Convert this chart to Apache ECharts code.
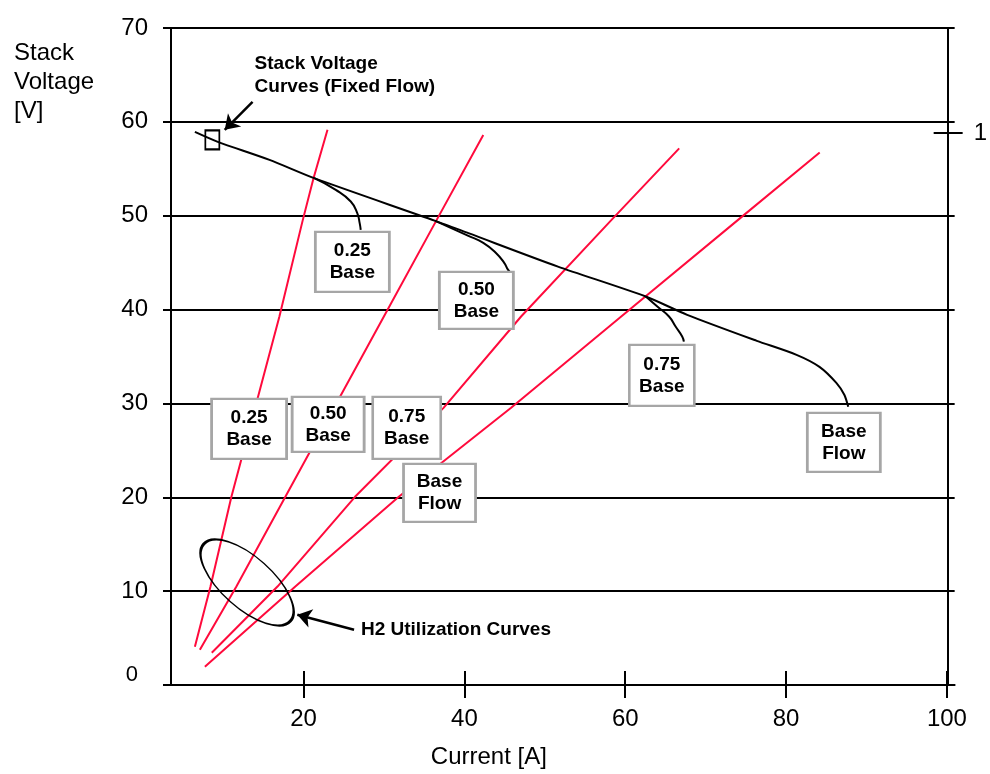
<!DOCTYPE html>
<html>
<head>
<meta charset="utf-8">
<script src="https://cdn.jsdelivr.net/npm/echarts@6/dist/echarts.min.js"></script>
<style>
  html, body { margin: 0; padding: 0; background: #fff; overflow: hidden; }
  #chart { width: 990px; height: 774px; }
</style>
</head>
<body>
<div id="chart"></div>
<script>
// ---------------- data ----------------
const currentTicks = [20, 40, 60, 80, 100];
const rightTicks = [1];

// H2 utilization curves: [current A, stack voltage V]
const util025 = [[6.49, 4.07], [8.43, 10.49], [11.03, 20.05], [17.00, 39.26], [19.88, 49.45], [21.24, 54.0], [22.98, 59.15]];
const util050 = [[7.11, 3.75], [11.65, 10.49], [17.74, 20.05], [29.99, 39.26], [36.49, 49.45], [42.35, 58.61]];
const util075 = [[8.59, 3.43], [16.76, 10.49], [26.40, 20.05], [37.41, 29.53], [47.05, 39.26], [58.18, 49.45], [66.71, 57.17]];
const utilBase = [[7.73, 1.94], [18.98, 10.49], [31.84, 20.05], [45.81, 29.53], [59.54, 39.28], [73.88, 49.45], [84.18, 56.73]];

// Stack voltage curves (fixed flow)
const stackBase = [[6.49, 58.93], [9.34, 57.87], [15.77, 55.95], [21.33, 54.0], [36.38, 49.45], [40.50, 48.14], [51.63, 44.58], [62.55, 41.39], [67.70, 39.44], [76.36, 36.67], [81.30, 35.18], [84.15, 33.90], [86.25, 32.19], [87.24, 30.92], [87.73, 29.64]];
const stack025 = [[21.33, 54.0], [24.01, 52.75], [25.87, 51.51], [26.68, 50.27], [26.98, 49.21], [27.11, 48.49]];
const stack050 = [[36.38, 49.45], [40.50, 47.85], [42.35, 47.11], [43.96, 46.01], [44.95, 44.98], [45.44, 44.23], [45.85, 43.88]];
const stack075 = [[62.55, 41.39], [63.99, 40.32], [65.44, 39.26], [66.26, 38.19], [67.08, 37.13], [67.29, 36.59]];

const boxLabels = ['0.25\nBase', '0.50\nBase', '0.75\nBase', 'Base\nFlow'];

// ---------------- chart ----------------
const FONT = '"Liberation Sans", Arial, sans-serif';
const RED = '#ff0a3c';
const chart = echarts.init(document.getElementById('chart'), null, { renderer: 'canvas' });

function redLine(name, data) {
  return { name, type: 'line', data, symbol: 'none', silent: true,
    lineStyle: { color: RED, width: 2 }, z: 2 };
}
function blackLine(name, data, smooth) {
  return { name, type: 'line', data, symbol: 'none', silent: true, smooth: smooth || false,
    lineStyle: { color: '#000', width: 2 }, z: 3 };
}
function box(label, coord, size) {
  return { coord, symbol: 'rect', symbolSize: size,
    itemStyle: { color: '#fff', borderColor: '#a6a6a6', borderWidth: 2.5 },
    label: { show: true, position: 'inside', formatter: label, color: '#000', fontSize: 19,
      fontWeight: 'bold', lineHeight: 22, fontFamily: FONT, textBorderWidth: 0 } };
}
function note(text, coord) {
  return { coord, symbol: 'circle', symbolSize: 0,
    itemStyle: { color: 'rgba(0,0,0,0)' },
    label: { show: true, position: 'right', distance: 0, formatter: text, color: '#000',
      fontSize: 19, fontWeight: 'bold', lineHeight: 23, fontFamily: FONT, align: 'left' } };
}

const mainSeries = blackLine('Stack Voltage (Base Flow)', stackBase, 0.25);
mainSeries.markPoint = {
  silent: true, animation: false, z: 10,
  data: [
    box(boxLabels[0], [26.07, 45.08], [74, 60]),
    box(boxLabels[1], [41.49, 40.98], [74, 57]),
    box(boxLabels[2], [64.55, 32.99], [65, 61]),
    box(boxLabels[3], [87.18, 25.86], [73, 59]),
    box(boxLabels[0], [13.23, 27.29], [75, 60]),
    box(boxLabels[1], [23.06, 27.77], [72, 55]),
    box(boxLabels[2], [32.83, 27.40], [68, 62]),
    box(boxLabels[3], [36.91, 20.47], [72, 58]),
    note('Stack Voltage\nCurves (Fixed Flow)', [13.91, 64.97]),
    note('H2 Utilization Curves', [27.14, 5.88]),
    { coord: [12.98, 10.92], symbol: 'circle', symbolSize: [116, 51], symbolRotate: -41.7,
      itemStyle: { color: 'rgba(0,0,0,0)', borderColor: '#000', borderWidth: 2 }, label: { show: false } },
    { coord: [8.66, 58.08], symbol: 'rect', symbolSize: [14, 19],
      itemStyle: { color: 'rgba(0,0,0,0)', borderColor: '#000', borderWidth: 2 }, label: { show: false } }
  ]
};
mainSeries.markLine = {
  silent: true, animation: false, symbol: ['none', 'arrow'], symbolSize: 14,
  lineStyle: { color: '#000', width: 2.5, type: 'solid' },
  label: { show: false },
  data: [
    [{ coord: [13.66, 62.13] }, { coord: [10.20, 59.15] }],
    [{ coord: [26.28, 5.88] }, { coord: [19.23, 7.48] }]
  ]
};

const axisFont = { fontSize: 24, color: '#000', fontFamily: FONT };
const blackAxisLine = { show: true, lineStyle: { color: '#000', width: 2 } };
const X_MIN = 3.52, X_MAX = 100.96, R_MAX = 1.19;

const option = {
  animation: false,
  backgroundColor: '#fff',
  textStyle: { fontFamily: FONT },
  title: [{
    text: 'Stack\nVoltage\n[V]', left: 14, top: 39, padding: 0,
    textStyle: { fontSize: 24, fontWeight: 'normal', color: '#000', lineHeight: 29, fontFamily: FONT }
  }],
  grid: { left: 171, right: 31, top: 28, bottom: 89, containLabel: false },
  xAxis: [{
    type: 'value', min: X_MIN, max: X_MAX, position: 'bottom',
    axisLine: blackAxisLine,
    axisTick: { show: true, customValues: currentTicks, length: 13, lineStyle: { color: '#000', width: 2 } },
    axisLabel: Object.assign({ customValues: currentTicks, margin: 22 }, axisFont),
    splitLine: { show: false },
    name: 'Current [A]', nameLocation: 'middle', nameGap: 60,
    nameTextStyle: Object.assign({ padding: [0, 148, 0, 0] }, axisFont)
  }, {
    type: 'value', min: X_MIN, max: X_MAX, position: 'bottom',
    axisLine: { show: false },
    axisTick: { show: true, inside: true, customValues: currentTicks, length: 14, lineStyle: { color: '#000', width: 2 } },
    axisLabel: { show: false }, splitLine: { show: false }
  }],
  yAxis: [{
    type: 'value', min: 0, max: 70, interval: 10, position: 'left',
    axisLine: blackAxisLine,
    axisTick: { show: true, length: 8, lineStyle: { color: '#000', width: 2 } },
    axisLabel: Object.assign({
      margin: 23,
      formatter: v => v === 0 ? '{z|0}' : String(v),
      rich: { z: { fontSize: 22, color: '#000', fontFamily: FONT, padding: [0, 10, 20, 0] } }
    }, axisFont),
    splitLine: { show: true, lineStyle: { color: '#000', width: 2 } }
  }, {
    type: 'value', min: 0, max: R_MAX, position: 'right', offset: -7,
    axisLine: blackAxisLine,
    axisTick: { show: true, customValues: rightTicks, length: 15, lineStyle: { color: '#000', width: 2 } },
    axisLabel: Object.assign({ customValues: rightTicks, margin: 26 }, axisFont),
    splitLine: { show: false }
  }, {
    type: 'value', min: 0, max: R_MAX, position: 'right', offset: -7,
    axisLine: { show: false },
    axisTick: { show: true, inside: true, customValues: rightTicks, length: 14, lineStyle: { color: '#000', width: 2 } },
    axisLabel: { show: false }, splitLine: { show: false }
  }],
  series: [
    redLine('H2 Utilization 0.25 Base', util025),
    redLine('H2 Utilization 0.50 Base', util050),
    redLine('H2 Utilization 0.75 Base', util075),
    redLine('H2 Utilization Base Flow', utilBase),
    blackLine('Stack Voltage 0.25 Base', stack025, true),
    blackLine('Stack Voltage 0.50 Base', stack050, true),
    blackLine('Stack Voltage 0.75 Base', stack075, true),
    mainSeries
  ]
};
chart.setOption(option);
</script>
</body>
</html>
